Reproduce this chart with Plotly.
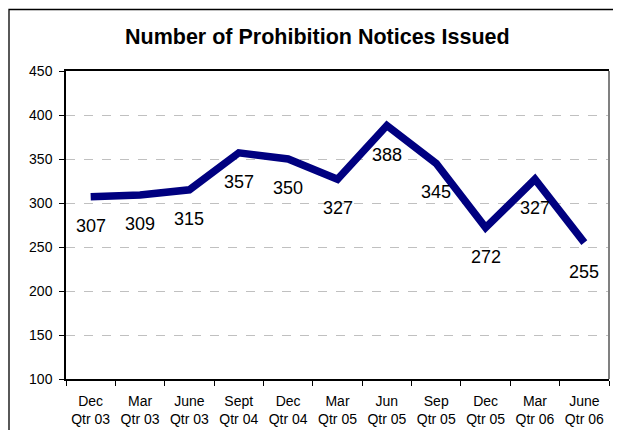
import plotly.graph_objects as go

categories = ["Dec<br>Qtr 03", "Mar<br>Qtr 03", "June<br>Qtr 03", "Sept<br>Qtr 04", "Dec<br>Qtr 04",
              "Mar<br>Qtr 05", "Jun<br>Qtr 05", "Sep<br>Qtr 05", "Dec<br>Qtr 05", "Mar<br>Qtr 06", "June<br>Qtr 06"]
notices = [307, 309, 315, 357, 350, 327, 388, 345, 272, 327, 255]
y_ticks = [100, 150, 200, 250, 300, 350, 400, 450]

FONT = "Arial, Liberation Sans, sans-serif"
OFF = 8  # page body margin offset
W, H = 621, 430
# target screen positions of the plot area
SL, SR, ST, SB = 66, 609, 71, 379
L, T = SL - OFF, ST - OFF
R = W - (SR - OFF)
B = H - (SB - OFF)
PW, PH = W - L - R, H - T - B

def px(x):
    return (x - OFF - L) / PW

def py(y):
    return (H - B - (y - OFF)) / PH

fig = go.Figure()
fig.add_trace(go.Scatter(
    x=categories, y=notices, mode="lines",
    line=dict(color="#000080", width=7.5),
    hoverinfo="x+y", showlegend=False,
))

for c, v in zip(categories, notices):
    fig.add_annotation(x=c, y=v, text=str(v), showarrow=False, yshift=-29,
                       font=dict(family=FONT, size=18, color="black"))

fig.add_annotation(x=px(317.5), y=py(37), xref="paper", yref="paper", showarrow=False,
                   text="<b>Number of Prohibition Notices Issued</b>", yanchor="middle",
                   font=dict(family=FONT, size=21.5, color="black"))

# outer chart frame (left + top)
fig.add_shape(type="path", xref="paper", yref="paper",
              path=f"M {px(9)} {py(445)} L {px(9)} {py(9.5)} L {px(640)} {py(9.5)}",
              line=dict(color="black", width=1.3))
# right border of plot area (gray)
fig.add_shape(type="line", xref="paper", yref="paper", x0=1, x1=1, y0=0, y1=1,
              line=dict(color="#808080", width=2))

fig.update_layout(
    width=W, height=H,
    margin=dict(l=L, r=R, t=T, b=B),
    paper_bgcolor="white", plot_bgcolor="white",
    font=dict(family=FONT, size=14, color="black"),
)
fig.update_xaxes(
    type="category", tickson="boundaries", ticks="outside", ticklen=5, tickcolor="black",
    showline=True, linecolor="black", linewidth=1.5, mirror=True, showgrid=False,
    tickfont=dict(family=FONT, size=14, color="black"), range=[-0.5, 10.5],
    ticklabelstandoff=8,
)
fig.update_yaxes(
    range=[100, 450], tickvals=y_ticks, ticks="outside", ticklen=5, tickcolor="black",
    showline=True, linecolor="black", linewidth=1.5, showgrid=True, gridcolor="#c0c0c0",
    griddash="dash", gridwidth=1, zeroline=False,
    tickfont=dict(family=FONT, size=14, color="black"), ticklabelstandoff=4,
)

fig.write_html("out.html")
